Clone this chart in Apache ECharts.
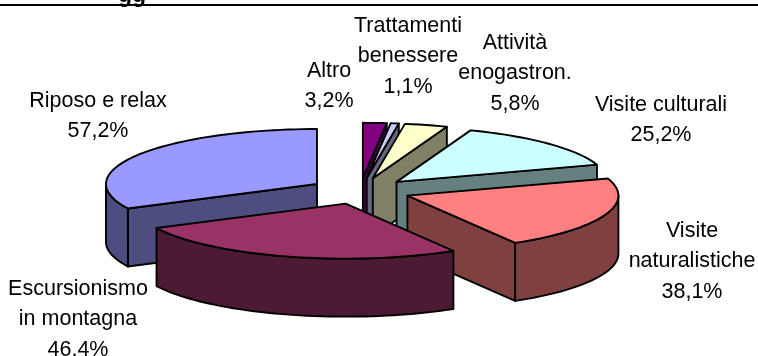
<!DOCTYPE html>
<html><head><meta charset="utf-8">
<style>html,body{margin:0;padding:0;background:#fff}#c{width:758px;height:356px}</style>
<script src="https://cdn.jsdelivr.net/npm/echarts@6/dist/echarts.min.js"></script>
</head><body><div id="c"></div>
<script>
// Data, in drawing order (clockwise; the first slice ends at twelve o'clock)
const categories = ['Riposo e relax','Altro','Trattamenti\nbenessere','Attività\nenogastron.','Visite culturali','Visite\nnaturalistiche','Escursionismo\nin montagna'];
const values = [57.2,3.2,1.1,5.8,25.2,38.1,46.4];
const topColors = ['#9999FF','#800080','#CCCCFF','#FFFFCC','#CCFFFF','#FF8080','#993366'];
const sideColors = ['#4D4D80','#400040','#666680','#808066','#668080','#804040','#4D1A33'];

// Layout
const cx = 360, cy = 191, rx = 211, ry = 55, depth = 58, explode = 0.24;
const labelAnchors = [[98,101],[329,71],[408,26],[515,43],[661,105],[692,231],[78,289]];
const lineGap = 30.5;
const FONT = '21.5px "Liberation Sans", Arial, sans-serif';

const total = values.reduce((a,b)=>a+b,0);
const startAngles = [];
let acc = -values[0]/total*360;
values.forEach(v=>{startAngles.push(acc); acc += v/total*360;});
const rad = d=>d*Math.PI/180;

function renderItem(params, api){
  const i = params.dataIndex;
  const a0 = startAngles[i], a1 = a0 + api.value(0)/total*360, mid=(a0+a1)/2;
  const ax = cx + explode*rx*Math.sin(rad(mid));
  const ay = cy - explode*ry*Math.cos(rad(mid));
  const pt = (a,dz=0)=>[ax+rx*Math.sin(rad(a)), ay-ry*Math.cos(rad(a))+dz];
  const arc = (from,to,dz=0)=>{
    const n=Math.max(2,Math.ceil(Math.abs(to-from)/2)), out=[];
    for(let k=0;k<=n;k++) out.push(pt(from+(to-from)*k/n,dz));
    return out;
  };
  const stroke = {stroke:'#000',lineWidth:1.9,lineJoin:'round'};
  const poly = (points,fill)=>({type:'polygon',shape:{points},style:{fill,...stroke}});
  const kids = [];
  const side = sideColors[i];
  const wall = a=>poly([[ax,ay],pt(a),pt(a,depth),[ax,ay+depth]],side);
  if(Math.sin(rad(a0))<-1e-6) kids.push(wall(a0));
  if(Math.sin(rad(a1))>1e-6) kids.push(wall(a1));
  // outer wall: the part of the rim facing the viewer (90..270 degrees)
  const shift = a0<0 ? 360 : 0;
  const ws=Math.max(a0+shift,90), we=Math.min(a1+shift,270);
  if(we>ws) kids.push(poly(arc(ws,we).concat(arc(we,ws,depth)),side));
  kids.push(poly([[ax,ay]].concat(arc(a0,a1)),topColors[i]));
  const lines = categories[i].split('\n').concat([api.value(0).toFixed(1).replace('.',',')+'%']);
  lines.forEach((t,k)=>kids.push({type:'text',z2:100,style:{text:t,x:labelAnchors[i][0],y:labelAnchors[i][1]+k*lineGap,align:'center',verticalAlign:'middle',font:FONT,fill:'#000'}}));
  return {type:'group',children:kids};
}

const chart = echarts.init(document.getElementById('c'),null,{renderer:'canvas'});
chart.setOption({
  animation:false,
  backgroundColor:'#fff',
  graphic:[
    {type:'rect',silent:true,z:10,shape:{x:0,y:4,width:758,height:2},style:{fill:'#000'}},
    {type:'text',silent:true,z:10,style:{text:'gg',x:118,y:-16,font:'bold 23px "Liberation Sans", Arial, sans-serif',fill:'#000'}}
  ],
  series:[{type:'custom',coordinateSystem:'none',data:values.map(v=>[v]),renderItem,silent:true,clip:false}]
});
</script></body></html>
